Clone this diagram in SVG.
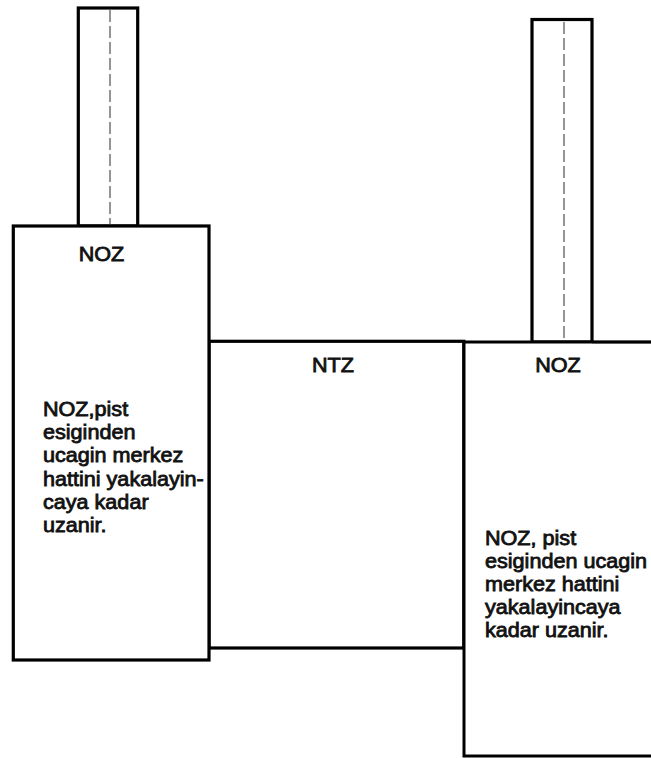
<svg xmlns="http://www.w3.org/2000/svg" width="651" height="758" viewBox="0 0 651 758">
<style>
.box{fill:#fff;stroke:#000;stroke-width:3.2}
.cl{fill:none;stroke:#8a8a8a;stroke-width:1.8;stroke-dasharray:12 4}
.t{font-family:"Liberation Sans",Arial,sans-serif;font-size:20px;fill:#111;stroke:#111;stroke-width:0.8}
.m{text-anchor:middle}
</style>
<rect width="651" height="758" fill="#fff"/>
<g id="runway-left">
<rect class="box" x="78.3" y="8" width="59.4" height="218"/>
<line class="cl" x1="110" y1="10" x2="110" y2="225"/>
</g>
<g id="runway-right">
<rect class="box" x="532" y="19.5" width="60" height="322.5"/>
<line class="cl" x1="564" y1="22" x2="564" y2="341"/>
</g>
<g id="ntz">
<rect class="box" x="209" y="341.3" width="254.8" height="306.7"/>
<text class="t m" transform="translate(333,372) scale(1.08,1)">NTZ</text>
</g>
<g id="noz-left">
<rect class="box" x="13.3" y="226" width="195.7" height="434"/>
<text class="t m" transform="translate(101.5,261) scale(1.08,1)">NOZ</text>
<text class="t" transform="translate(43,416) scale(1.08,1)"><tspan x="0" y="0">NOZ,pist</tspan><tspan x="0" y="23.2">esiginden</tspan><tspan x="0" y="46.4">ucagin merkez</tspan><tspan x="0" y="69.6">hattini yakalayin-</tspan><tspan x="0" y="92.8">caya kadar</tspan><tspan x="0" y="116">uzanir.</tspan></text>
</g>
<g id="noz-right">
<rect class="box" x="464" y="342" width="200" height="414" style="stroke-width:3"/>
<line x1="592" y1="342" x2="651" y2="342" stroke="#000" stroke-width="2.6"/>
<text class="t m" transform="translate(558,372) scale(1.08,1)">NOZ</text>
<text class="t" transform="translate(485,545) scale(1.08,1)"><tspan x="0" y="0">NOZ, pist</tspan><tspan x="0" y="23">esiginden ucagin</tspan><tspan x="0" y="46">merkez hattini</tspan><tspan x="0" y="69">yakalayincaya</tspan><tspan x="0" y="92">kadar uzanir.</tspan></text>
</g>
</svg>
